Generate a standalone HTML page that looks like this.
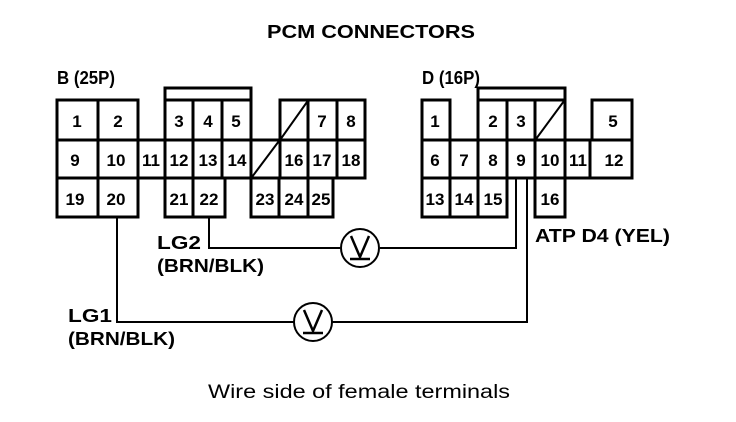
<!DOCTYPE html>
<html><head><meta charset="utf-8"><style>
html,body{margin:0;padding:0;background:#fff;}
svg{display:block;}
text{font-family:"Liberation Sans",Arial,sans-serif;fill:#000;}
.b{font-weight:bold;font-size:18px;}
.n{font-weight:bold;font-size:17px;text-anchor:middle;}
</style></head><body>
<svg width="736" height="422" viewBox="0 0 736 422" xmlns="http://www.w3.org/2000/svg">
<text class="b" x="267" y="38" textLength="208" lengthAdjust="spacingAndGlyphs">PCM CONNECTORS</text>
<text class="b" x="57" y="84" textLength="58" lengthAdjust="spacingAndGlyphs">B (25P)</text>
<text class="b" x="422" y="84" textLength="58" lengthAdjust="spacingAndGlyphs">D (16P)</text>
<g fill="none" stroke="#000" stroke-width="3">
<rect x="57" y="100" width="81" height="117"/>
<line x1="57" y1="140" x2="138" y2="140"/><line x1="57" y1="178" x2="138" y2="178"/>
<line x1="98" y1="100" x2="98" y2="217"/>
<rect x="138" y="140" width="227" height="38"/>
<line x1="165" y1="140" x2="165" y2="178"/>
<rect x="165" y="88" width="86" height="12"/>
<rect x="165" y="100" width="86" height="40"/>
<line x1="193" y1="100" x2="193" y2="178"/><line x1="222" y1="100" x2="222" y2="178"/>
<rect x="165" y="178" width="60" height="39"/>
<line x1="193" y1="178" x2="193" y2="217"/>
<line x1="251" y1="140" x2="251" y2="178"/>
<rect x="280" y="100" width="85" height="40"/>
<line x1="308" y1="100" x2="308" y2="178"/><line x1="337" y1="100" x2="337" y2="178"/>
<line x1="280" y1="140" x2="280" y2="178"/>
<line x1="280" y1="140" x2="307" y2="102" stroke-width="2"/>
<line x1="252" y1="177" x2="279" y2="141" stroke-width="2"/>
<rect x="251" y="178" width="82" height="39"/>
<line x1="279" y1="178" x2="279" y2="217"/><line x1="308" y1="178" x2="308" y2="217"/>
<rect x="422" y="100" width="28" height="40"/>
<rect x="478" y="88" width="87" height="12"/>
<rect x="478" y="100" width="87" height="40"/>
<line x1="507" y1="100" x2="507" y2="140"/><line x1="535" y1="100" x2="535" y2="140"/>
<line x1="536" y1="139" x2="564" y2="101" stroke-width="2"/>
<rect x="592" y="100" width="40" height="40"/>
<rect x="422" y="140" width="210" height="38"/>
<line x1="450" y1="140" x2="450" y2="217"/><line x1="478" y1="140" x2="478" y2="217"/>
<line x1="507" y1="140" x2="507" y2="178"/><line x1="535" y1="140" x2="535" y2="178"/>
<line x1="565" y1="140" x2="565" y2="178"/><line x1="590" y1="140" x2="590" y2="178"/>
<rect x="422" y="178" width="85" height="39"/>
<rect x="535" y="178" width="30" height="39"/>
<polyline points="209,217 209,248 340,248" stroke-width="2"/>
<polyline points="380,248 516,248 516,178" stroke-width="2"/>
<polyline points="117,217 117,322 294,322" stroke-width="2"/>
<polyline points="332,322 527,322 527,178" stroke-width="2"/>
<circle cx="360" cy="248" r="19" stroke-width="2"/>
<circle cx="313" cy="322" r="19" stroke-width="2"/>
<polyline points="351,236 360,257 369,236" stroke-width="2.5"/>
<line x1="350" y1="259" x2="370" y2="259" stroke-width="2.5"/>
<polyline points="304,310 313,331 322,310" stroke-width="2.5"/>
<line x1="303" y1="333" x2="323" y2="333" stroke-width="2.5"/>
</g>
<g class="n">
<text x="77" y="127" class="n">1</text><text x="118" y="127" class="n">2</text>
<text x="179" y="127" class="n">3</text><text x="208" y="127" class="n">4</text><text x="236" y="127" class="n">5</text>
<text x="322" y="127" class="n">7</text><text x="351" y="127" class="n">8</text>
<text x="75" y="166" class="n">9</text><text x="116" y="166" class="n">10</text><text x="151" y="166" class="n">11</text>
<text x="179" y="166" class="n">12</text><text x="208" y="166" class="n">13</text><text x="237" y="166" class="n">14</text>
<text x="294" y="166" class="n">16</text><text x="322" y="166" class="n">17</text><text x="351" y="166" class="n">18</text>
<text x="75" y="205" class="n">19</text><text x="116" y="205" class="n">20</text>
<text x="179" y="205" class="n">21</text><text x="209" y="205" class="n">22</text>
<text x="265" y="205" class="n">23</text><text x="294" y="205" class="n">24</text><text x="321" y="205" class="n">25</text>
<text x="435" y="127" class="n">1</text><text x="493" y="127" class="n">2</text><text x="521" y="127" class="n">3</text><text x="613" y="127" class="n">5</text>
<text x="435" y="166" class="n">6</text><text x="464" y="166" class="n">7</text><text x="493" y="166" class="n">8</text><text x="521" y="166" class="n">9</text>
<text x="550" y="166" class="n">10</text><text x="578" y="166" class="n">11</text><text x="614" y="166" class="n">12</text>
<text x="435" y="205" class="n">13</text><text x="464" y="205" class="n">14</text><text x="493" y="205" class="n">15</text><text x="550" y="205" class="n">16</text>
</g>
<text class="b" x="157" y="249" textLength="44" lengthAdjust="spacingAndGlyphs">LG2</text>
<text class="b" x="157" y="272" textLength="107" lengthAdjust="spacingAndGlyphs">(BRN/BLK)</text>
<text class="b" x="535" y="242" textLength="135" lengthAdjust="spacingAndGlyphs">ATP D4 (YEL)</text>
<text class="b" x="68" y="322" textLength="44" lengthAdjust="spacingAndGlyphs">LG1</text>
<text class="b" x="68" y="345" textLength="107" lengthAdjust="spacingAndGlyphs">(BRN/BLK)</text>
<text x="208" y="398" font-size="19" textLength="302" lengthAdjust="spacingAndGlyphs">Wire side of female terminals</text>
</svg>
</body></html>
